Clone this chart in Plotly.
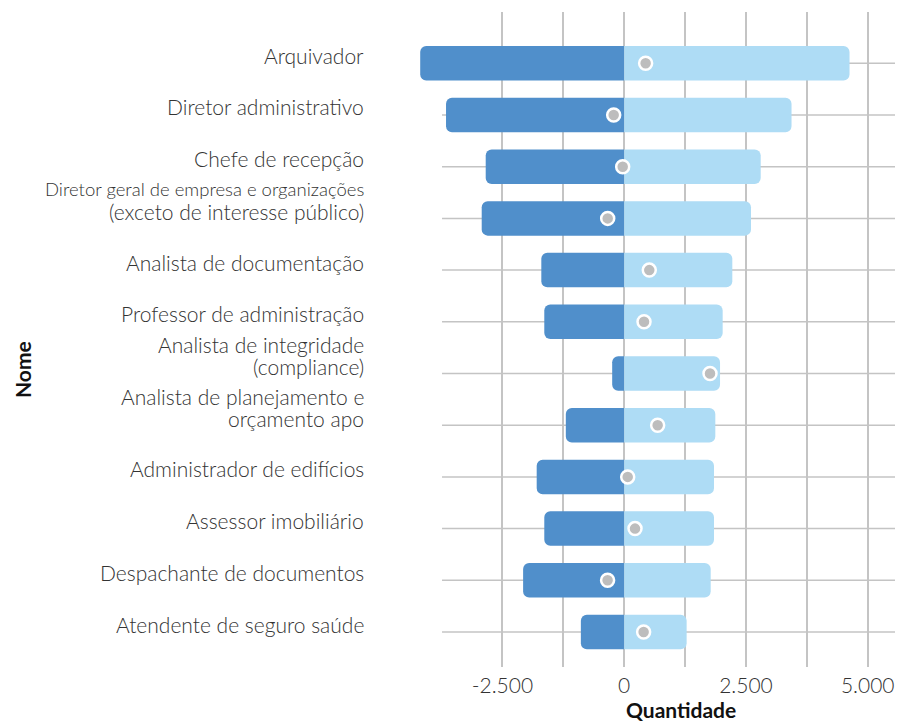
import plotly.graph_objects as go

# ocupações (de cima para baixo)
nomes = [
    "Arquivador",
    "Diretor administrativo",
    "Chefe de recepção",
    "Diretor geral de empresa e organizações<br>(exceto de interesse público)",
    "Analista de documentação",
    "Professor de administração",
    "Analista de integridade<br>(compliance)",
    "Analista de planejamento e<br>orçamento apo",
    "Administrador de edifícios",
    "Assessor imobiliário",
    "Despachante de documentos",
    "Atendente de seguro saúde",
]
desligamentos = [-4189, -3659, -2844, -2926, -1702, -1641, -247, -1199, -1797, -1641, -2076, -890]
admissoes = [4627, 3436, 2803, 2604, 2220, 2022, 1968, 1871, 1844, 1844, 1776, 1282]
saldo = [440, -216, -31, -339, 515, 407, 1762, 687, 72, 222, -341, 399]

idx = list(range(len(nomes)))

AZUL = "#508fcb"
AZUL_CLARO = "#aedcf5"
GRID = "#c4c4c4"
TXT = "#333333"
X_MIN, X_MAX = -4604, 5725
GRID_INICIO = -3741

fig = go.Figure()
fig.add_trace(go.Bar(y=idx, x=desligamentos, orientation="h", marker_color=AZUL,
                     marker_line_width=0, width=0.667, showlegend=False,
                     marker_cornerradius=6))
fig.add_trace(go.Bar(y=idx, x=admissoes, orientation="h", marker_color=AZUL_CLARO,
                     marker_line_width=0, width=0.667, showlegend=False,
                     marker_cornerradius=6))
fig.add_trace(go.Scatter(y=idx, x=saldo, mode="markers", showlegend=False,
                         marker=dict(size=13, color="#bdbdbd",
                                     line=dict(color="white", width=2.5))))

# linhas horizontais de grade (começam depois dos rótulos)
for i in idx:
    fig.add_shape(type="line", xref="x", yref="y", x0=GRID_INICIO, x1=X_MAX, y0=i, y1=i,
                  line=dict(color=GRID, width=1.5), layer="below")

# rótulos das categorias à esquerda (uma anotação por linha de texto)
for i, n in enumerate(nomes):
    linhas = n.split("<br>")
    for k, t in enumerate(linhas):
        desloc = 8 if len(linhas) == 1 else 29 - 22 * k
        tam = 18.5 if len(t) > 32 else 21  # linha muito longa fica comprimida
        fig.add_annotation(x=0, xref="paper", y=i, yref="y", text=t, showarrow=False,
                           xanchor="right", yanchor="middle", align="right",
                           xshift=-35, yshift=desloc, borderpad=0,
                           font=dict(family="Lato", size=tam, color=TXT, weight=300))

fig.add_annotation(x=(680.5 - 400) / 503, xref="paper", y=(667 - 709) / 655, yref="paper",
                   text="<b>Quantidade</b>", showarrow=False, xanchor="center", yanchor="middle",
                   font=dict(family="Lato", size=21, color="#111111"))
fig.add_annotation(x=(22 - 400) / 503, xref="paper", y=(667 - 370) / 655, yref="paper",
                   text="<b>Nome</b>", showarrow=False, textangle=-90,
                   xanchor="center", yanchor="middle",
                   font=dict(family="Lato", size=21, color="#111111"))

# a página tem margem de 8px no body: a figura é um pouco menor que a janela
fig.update_layout(
    width=895, height=713,
    margin=dict(l=392, r=0, t=4, b=54),
    barmode="relative",
    barcornerradius=6,
    plot_bgcolor="white", paper_bgcolor="white",
    font=dict(family="Lato", color=TXT),
    xaxis=dict(range=[X_MIN, X_MAX], tickvals=[-2500, 0, 2500, 5000],
               ticktext=["-2.500", "0", "2.500", "5.000"],
               showgrid=True, gridcolor=GRID, gridwidth=1.5, zeroline=False,
               minor=dict(tickvals=[-1250, 1250, 3750], showgrid=True,
                          gridcolor=GRID, gridwidth=1.5),
               tickfont=dict(family="Lato", size=21, color=TXT, weight=300),
               ticks="", showline=False, automargin=False, ticklabelstandoff=4),
    yaxis=dict(range=[11.677, -0.992], showticklabels=False, showgrid=False,
               zeroline=False, ticks="", showline=False, automargin=False),
)

fig.write_html("out.html")
